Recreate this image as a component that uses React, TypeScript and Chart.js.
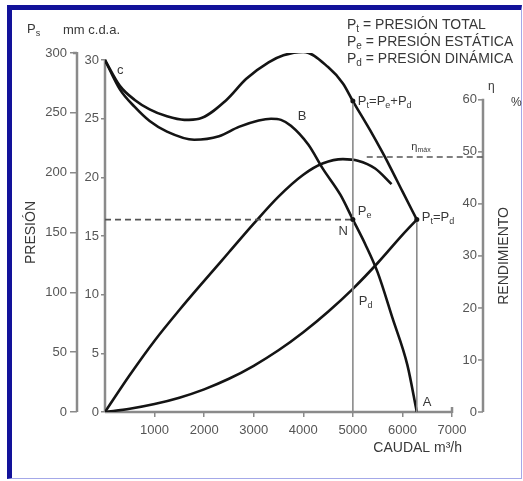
import React, { useEffect, useRef } from 'react';
import { Chart, registerables } from 'chart.js';

Chart.register(...registerables);

// ---------- DATA ----------
// Caudal (m³/h) and presión (mm c.d.a.)
const caudalTotal = [0, 300, 600, 900, 1250, 1600, 1900, 2450, 2850, 3300, 3600, 4000, 4500, 4800, 5000, 5350, 5600, 5750, 6000, 6290];
const presionTotal = [300, 278, 266, 258, 252, 249, 250, 266, 284, 298, 304, 307, 294, 280, 265, 240, 221, 209, 188, 164];

const caudalEstatica = [0, 300, 600, 900, 1250, 1800, 2300, 2700, 3100, 3350, 3550, 3750, 4100, 4400, 4750, 5000, 5250, 5500, 5800, 6100, 6290];
const presionEstatica = [300, 275, 260, 248, 239, 232, 235, 243, 248.5, 250, 249, 244, 228, 207, 185, 164, 143, 119, 80, 40, 0];

const caudalDinamica = [0, 500, 1000, 1500, 2000, 2500, 3000, 3500, 4000, 4500, 5000, 5500, 6000, 6290];
const presionDinamica = [0, 2.8, 6.8, 12.2, 19.3, 28.3, 39.4, 52.6, 68, 85.5, 105, 127, 151, 164];

// Rendimiento η (%)
const caudalRend = [0, 500, 1000, 1500, 2000, 2500, 3000, 3500, 4000, 4400, 4800, 5100, 5450, 5780];
const rendimiento = [0, 7.1, 13.7, 19.6, 25.2, 30.7, 36.2, 41.4, 45.6, 47.8, 48.6, 48.3, 46.8, 43.8];

// Operating points
const caudalN = 5000;
const presionN = 164;
const presionTotalN = 265;
const caudalA = 6290;
const rendMax = 49;
const caudalRendMaxStart = 5280;

// Tick labels
const caudalTicks = [1000, 2000, 3000, 4000, 5000, 6000, 7000];
const presionTicks = [0, 50, 100, 150, 200, 250, 300];
const rendTicks = [0, 10, 20, 30, 40, 50, 60];

const FONT = '"Liberation Sans", Arial, Helvetica, sans-serif';
const TEXT = '#383838';
const TICK = '#555555';
const AXIS = '#8a8a8a';
const CURVE = '#141414';

const pts = (xs: number[], ys: number[]) => xs.map((x, i) => ({ x, y: ys[i] }));

type Part = [string, boolean];

function drawRich(ctx: CanvasRenderingContext2D, parts: Part[], x: number, y: number, size: number, align: 'left' | 'right' | 'center' = 'left') {
  const main = `${size}px ${FONT}`;
  const subSize = Math.round(size * 0.68);
  const sub = `${subSize}px ${FONT}`;
  const widths = parts.map(([t, s]) => {
    ctx.font = s ? sub : main;
    return ctx.measureText(t).width;
  });
  const total = widths.reduce((a, b) => a + b, 0);
  let cx = align === 'left' ? x : align === 'right' ? x - total : x - total / 2;
  ctx.textAlign = 'left';
  ctx.textBaseline = 'middle';
  parts.forEach(([t, s], i) => {
    ctx.font = s ? sub : main;
    ctx.fillText(t, cx, s ? y + size * 0.32 : y);
    cx += widths[i];
  });
}

const decor = {
  id: 'decor',
  beforeDatasetsDraw(chart: any) {
    const { ctx, chartArea, scales } = chart;
    const sx = scales.x, sy = scales.y, so = scales.yOuter, se = scales.yEta;
    const line = (x1: number, y1: number, x2: number, y2: number) => {
      ctx.beginPath();
      ctx.moveTo(x1, y1);
      ctx.lineTo(x2, y2);
      ctx.stroke();
    };
    ctx.save();
    ctx.strokeStyle = AXIS;
    ctx.lineWidth = 2.5;
    const b = chartArea.bottom;
    line(sx.getPixelForValue(0), b, sx.getPixelForValue(7000), b);
    line(sx.getPixelForValue(7000), b + 1, sx.getPixelForValue(7000), b - 5);
    line(so.right, so.getPixelForValue(0), so.right, so.getPixelForValue(300) - 1);
    line(so.right - 4, so.getPixelForValue(300), so.right, so.getPixelForValue(300));
    line(chartArea.left, sy.getPixelForValue(0), chartArea.left, sy.getPixelForValue(300) - 1);
    line(se.left, se.getPixelForValue(0), se.left, se.getPixelForValue(60) - 1);
    ctx.lineWidth = 1.5;
    rendTicks.forEach((v) => line(se.left - 5, se.getPixelForValue(v), se.left, se.getPixelForValue(v)));
    ctx.restore();
  },
  afterDatasetsDraw(chart: any) {
    const { ctx, chartArea, scales } = chart;
    const sx = scales.x, sy = scales.y, se = scales.yEta;
    ctx.save();
    ctx.fillStyle = TEXT;

    // header
    drawRich(ctx, [['P', false], ['s', true]], 27, 29, 13);
    drawRich(ctx, [['mm c.d.a.', false]], 63, 30, 13);

    // legend
    drawRich(ctx, [['P', false], ['t', true], [' = PRESIÓN TOTAL', false]], 347, 25, 14);
    drawRich(ctx, [['P', false], ['e', true], [' = PRESIÓN ESTÁTICA', false]], 347, 42, 14);
    drawRich(ctx, [['P', false], ['d', true], [' = PRESIÓN DINÁMICA', false]], 347, 59, 14);

    // curve labels
    drawRich(ctx, [['c', false]], sx.getPixelForValue(0) + 12, sy.getPixelForValue(300) + 10, 13);
    drawRich(ctx, [['B', false]], sx.getPixelForValue(3975), sy.getPixelForValue(252), 13, 'center');
    drawRich(ctx, [['P', false], ['t', true], ['=', false], ['P', false], ['e', true], ['+', false], ['P', false], ['d', true]],
      sx.getPixelForValue(caudalN) + 5, sy.getPixelForValue(presionTotalN), 13);
    drawRich(ctx, [['P', false], ['e', true]], sx.getPixelForValue(caudalN) + 5, sy.getPixelForValue(presionN) - 8, 13);
    drawRich(ctx, [['N', false]], sx.getPixelForValue(caudalN) - 5, sy.getPixelForValue(presionN) + 12, 13, 'right');
    drawRich(ctx, [['P', false], ['t', true], ['=', false], ['P', false], ['d', true]],
      sx.getPixelForValue(caudalA) + 5, sy.getPixelForValue(presionN) - 2, 13);
    drawRich(ctx, [['P', false], ['d', true]], sx.getPixelForValue(caudalN) + 6, sy.getPixelForValue(94), 13);
    drawRich(ctx, [['A', false]], sx.getPixelForValue(caudalA) + 6, sy.getPixelForValue(8), 13);
    drawRich(ctx, [['η', false], ['máx', true]], sx.getPixelForValue(6180), se.getPixelForValue(51), 11);

    // right axis header and title
    drawRich(ctx, [['η', false]], se.left + 5, se.getPixelForValue(62.5), 12);
    drawRich(ctx, [['%', false]], se.left + 28, se.getPixelForValue(59.5), 12);
    ctx.save();
    ctx.translate(se.left + 21, se.getPixelForValue(30));
    ctx.rotate(-Math.PI / 2);
    drawRich(ctx, [['RENDIMIENTO', false]], 0, 0, 14, 'center');
    ctx.restore();

    // x title
    drawRich(ctx, [['CAUDAL m³/h', false]], sx.getPixelForValue(7000) + 10, chartArea.bottom + 36, 14, 'right');

    // points
    ctx.fillStyle = CURVE;
    [[caudalN, presionTotalN], [caudalN, presionN], [caudalA, presionN]].forEach(([q, p]) => {
      ctx.beginPath();
      ctx.arc(sx.getPixelForValue(q), sy.getPixelForValue(p), 2.5, 0, Math.PI * 2);
      ctx.fill();
    });
    ctx.restore();
  },
};

export default function App() {
  const ref = useRef<HTMLCanvasElement>(null);

  useEffect(() => {
    if (!ref.current) return;
    const curve = (data: any, yAxisID = 'y') => ({
      data,
      yAxisID,
      borderColor: CURVE,
      borderWidth: 2.6,
      pointRadius: 0,
      cubicInterpolationMode: 'monotone' as const,
      fill: false,
    });
    const guide = (data: any, yAxisID: string, dash: number[], color: string, width: number) => ({
      data,
      yAxisID,
      borderColor: color,
      borderWidth: width,
      borderDash: dash,
      pointRadius: 0,
      tension: 0,
      fill: false,
    });
    const tickFont = { family: FONT, size: 13 };

    const chart = new Chart(ref.current, {
      type: 'line',
      data: {
        datasets: [
          guide([{ x: 0, y: presionN }, { x: caudalN, y: presionN }], 'y', [6, 4], '#555', 1.6),
          guide([{ x: caudalRendMaxStart, y: rendMax }, { x: 7625, y: rendMax }], 'yEta', [6, 4], '#555', 1.6),
          guide([{ x: caudalN, y: 0 }, { x: caudalN, y: presionTotalN }], 'y', [], '#8a8a8a', 1.6),
          guide([{ x: caudalA, y: 0 }, { x: caudalA, y: presionN }], 'y', [], '#8a8a8a', 1.6),
          curve(pts(caudalTotal, presionTotal)),
          curve(pts(caudalEstatica, presionEstatica)),
          curve(pts(caudalDinamica, presionDinamica)),
          curve(pts(caudalRend, rendimiento), 'yEta'),
        ],
      },
      options: {
        responsive: false,
        animation: false,
        devicePixelRatio: 1,
        parsing: true,
        layout: { padding: { top: 53, left: 0, right: 0, bottom: 0 } },
        plugins: { legend: { display: false }, tooltip: { enabled: false }, title: { display: false } },
        scales: {
          x: {
            type: 'linear',
            position: 'bottom',
            min: 0,
            max: 7625,
            afterBuildTicks: (s: any) => { s.ticks = caudalTicks.map((v) => ({ value: v })); },
            afterFit: (s: any) => { s.height = 69; },
            border: { display: false },
            grid: { drawOnChartArea: false, drawTicks: true, tickLength: 5, color: AXIS, lineWidth: 1.5 },
            ticks: { autoSkip: false, maxRotation: 0, padding: 6, color: TICK, font: tickFont, callback: (v: any) => String(v) },
          },
          y: {
            type: 'linear',
            position: 'left',
            weight: 0,
            min: 0,
            max: 306,
            afterBuildTicks: (s: any) => { s.ticks = presionTicks.map((v) => ({ value: v })); },
            afterFit: (s: any) => { s.width = 28; },
            border: { display: false },
            grid: { drawOnChartArea: false, drawTicks: true, tickLength: 4, color: AXIS, lineWidth: 1.5 },
            ticks: { autoSkip: false, padding: 2, color: TICK, font: tickFont, callback: (v: any) => String(Number(v) / 10) },
          },
          yOuter: {
            type: 'linear',
            position: 'left',
            weight: 10,
            min: 0,
            max: 300,
            afterBuildTicks: (s: any) => { s.ticks = presionTicks.map((v) => ({ value: v })); },
            afterFit: (s: any) => { s.width = 77; },
            border: { display: false },
            grid: { drawOnChartArea: false, drawTicks: true, tickLength: 7, color: AXIS, lineWidth: 1.5 },
            ticks: { autoSkip: false, padding: 3, color: TICK, font: tickFont, callback: (v: any) => String(v) },
            title: { display: true, text: 'PRESIÓN', color: TEXT, font: { family: FONT, size: 14 }, padding: { top: 23, bottom: 0 } },
          },
          yEta: {
            type: 'linear',
            position: 'right',
            min: 0,
            max: 69,
            afterBuildTicks: (s: any) => { s.ticks = rendTicks.map((v) => ({ value: v })); },
            afterFit: (s: any) => { s.width = 40; },
            border: { display: false },
            grid: { display: false, drawTicks: false },
            ticks: { autoSkip: false, mirror: true, padding: -6, color: TICK, font: tickFont, callback: (v: any) => String(v) },
          },
        },
      },
      plugins: [decor],
    });
    return () => chart.destroy();
  }, []);

  return (
    <div style={{ position: 'absolute', left: 0, top: 0, width: 523, height: 481, background: '#fff' }}>
      <div
        style={{
          position: 'absolute',
          left: 7,
          top: 5,
          width: 515,
          height: 474,
          boxSizing: 'border-box',
          borderTop: '5px solid #12129a',
          borderLeft: '5px solid #12129a',
          borderRight: '1px solid #a4a8e8',
          borderBottom: '1px solid #a4a8e8',
        }}
      />
      <canvas ref={ref} width={523} height={481} style={{ position: 'absolute', left: 0, top: 0, width: 523, height: 481 }} />
    </div>
  );
}
